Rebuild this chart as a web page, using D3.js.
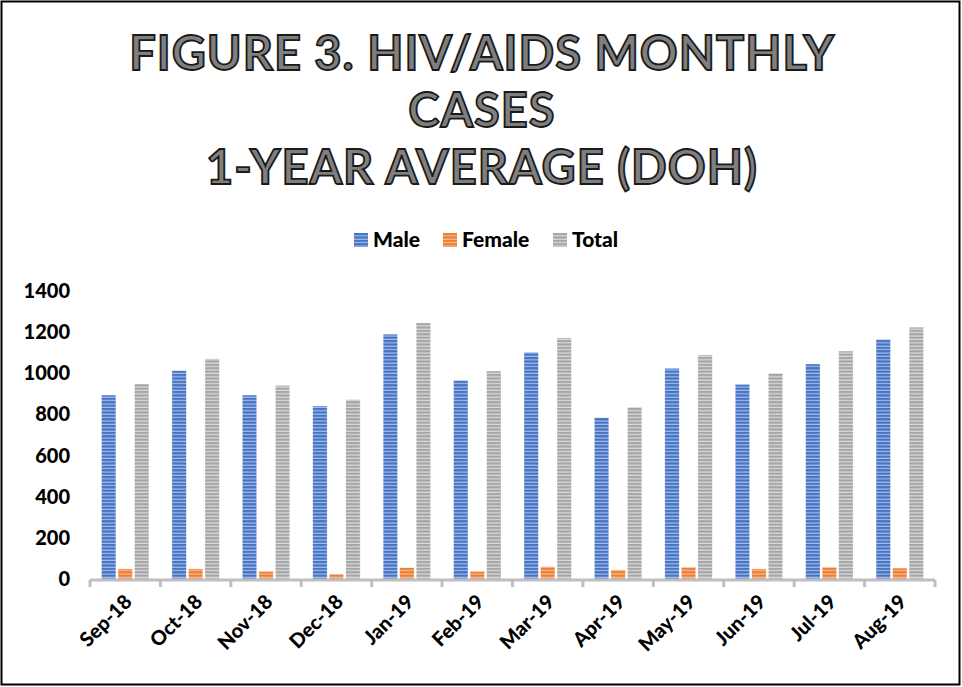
<!DOCTYPE html>
<html>
<head>
<meta charset="utf-8">
<script src="https://cdn.jsdelivr.net/npm/d3@7"></script>
<style>
  body { margin: 0; background: #fff; }
  svg { display: block; font-family: Lato, "Open Sans", sans-serif; }
</style>
</head>
<body>
<div id="chart"></div>
<script>
// months on the x axis
const months = ['Sep-18','Oct-18','Nov-18','Dec-18','Jan-19','Feb-19','Mar-19','Apr-19','May-19','Jun-19','Jul-19','Aug-19'];
const seriesNames = ['Male','Female','Total'];
const maleCases   = [894, 1013, 894, 841, 1190, 966, 1102, 784, 1024, 946, 1045, 1165];
const femaleCases = [49, 49, 37, 24, 55, 37, 60, 44, 58, 49, 58, 53];
const totalCases  = [948, 1070, 941, 872, 1245, 1011, 1172, 836, 1089, 1001, 1108, 1224];
const yTicks = [0, 200, 400, 600, 800, 1000, 1200, 1400];
const titleLines = ['FIGURE 3. HIV/AIDS MONTHLY', 'CASES', '1-YEAR AVERAGE (DOH)'];

const W = 962, H = 687;
const colors = { Male: ['#4472c4', '#a9bfe6'], Female: ['#ed7d31', '#f6bf9a'], Total: ['#a5a5a5', '#dcdcdc'] };

const svg = d3.select('#chart').append('svg')
  .attr('width', W).attr('height', H);

// striped fills
const defs = svg.append('defs');
seriesNames.forEach(s => {
  const p = defs.append('pattern')
    .attr('id', 'pat-' + s)
    .attr('patternUnits', 'userSpaceOnUse')
    .attr('width', 6).attr('height', 3.4);
  p.append('rect').attr('width', 6).attr('height', 3.4).attr('fill', colors[s][1]);
  p.append('rect').attr('width', 6).attr('height', 2.2).attr('fill', colors[s][0]);
});

// frame
svg.append('rect')
  .attr('x', 1.5).attr('y', 1.5)
  .attr('width', W - 4).attr('height', H - 4)
  .attr('fill', 'none').attr('stroke', '#000').attr('stroke-width', 2);

// title
svg.append('g').selectAll('text')
  .data(titleLines)
  .join('text')
  .attr('x', 482)
  .attr('y', (d, i) => 70 + i * 57)
  .attr('text-anchor', 'middle')
  .attr('font-size', 47)
  .attr('font-weight', 700)
  .attr('letter-spacing', 1)
  .attr('fill', '#7f7f7f')
  .attr('stroke', '#1a1a1a')
  .attr('stroke-width', 1.8)
  .text(d => d);

// legend
const legendX = [354, 443, 553];
const legend = svg.append('g').selectAll('g')
  .data(seriesNames)
  .join('g')
  .attr('transform', (d, i) => `translate(${legendX[i]},233)`);
legend.append('rect')
  .attr('width', 14).attr('height', 14)
  .attr('fill', d => `url(#pat-${d})`);
legend.append('text')
  .attr('x', 19).attr('y', 14)
  .attr('font-size', 21).attr('font-weight', 900)
  .attr('fill', '#000')
  .text(d => d);

// scales
const x0 = d3.scaleBand().domain(months).range([90, 935]).padding(0);
const x1 = d3.scaleBand().domain(seriesNames)
  .range([11.5, x0.bandwidth() - 11.5]).paddingInner(0.13);
const y = d3.scaleLinear().domain([0, 1400]).range([579, 291]);

const rows = months.map((m, i) => ({
  month: m,
  values: [
    { key: 'Male', v: maleCases[i] },
    { key: 'Female', v: femaleCases[i] },
    { key: 'Total', v: totalCases[i] }
  ]
}));

// y axis labels
svg.append('g').selectAll('text')
  .data(yTicks)
  .join('text')
  .attr('x', 70)
  .attr('y', d => y(d) + 7)
  .attr('text-anchor', 'end')
  .attr('font-size', 20).attr('font-weight', 900)
  .attr('fill', '#000')
  .text(d => d);

// bars
const groups = svg.append('g').selectAll('g')
  .data(rows)
  .join('g')
  .attr('transform', d => `translate(${x0(d.month)},0)`);
groups.selectAll('rect')
  .data(d => d.values)
  .join('rect')
  .attr('x', d => x1(d.key))
  .attr('width', x1.bandwidth())
  .attr('y', d => y(d.v))
  .attr('height', d => y(0) - y(d.v))
  .attr('fill', d => `url(#pat-${d.key})`)
  .attr('stroke', '#ffffff')
  .attr('stroke-opacity', 0.5)
  .attr('stroke-width', 0.6);

// x axis line with category ticks
const axisG = svg.append('g');
axisG.append('line')
  .attr('x1', 90).attr('x2', 935)
  .attr('y1', y(0) + 1).attr('y2', y(0) + 1)
  .attr('stroke', '#bfbfbf').attr('stroke-width', 3);
const boundaries = months.map(m => x0(m)).concat([x0(months[months.length - 1]) + x0.bandwidth()]);
axisG.selectAll('.tick')
  .data(boundaries)
  .join('line')
  .attr('class', 'tick')
  .attr('x1', d => d).attr('x2', d => d)
  .attr('y1', y(0) + 1).attr('y2', y(0) + 8)
  .attr('stroke', '#bfbfbf').attr('stroke-width', 3);

// x labels rotated
svg.append('g').selectAll('text')
  .data(months)
  .join('text')
  .attr('transform', d => `translate(${x0(d) + x0.bandwidth() / 2 + 8},${y(0) + 24}) rotate(-45)`)
  .attr('text-anchor', 'end')
  .attr('font-size', 20).attr('font-weight', 900)
  .attr('fill', '#000')
  .text(d => d);
</script>
</body>
</html>
